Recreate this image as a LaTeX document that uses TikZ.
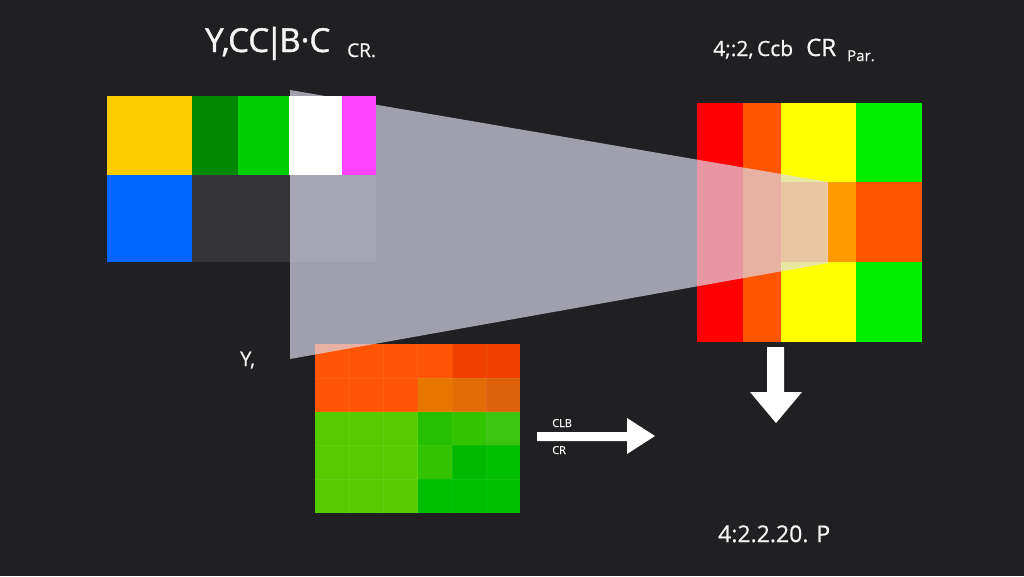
\documentclass[tikz,border=0pt]{standalone}
\usepackage{fontspec}
\setmainfont{Open Sans}
\newfontfamily\medf[FakeBold=1.2]{Open Sans}
\newfontfamily\medg[FakeBold=0.7]{Open Sans}
\definecolor{bg}{RGB}{32,32,34}
\definecolor{txt}{RGB}{245,245,245}
\definecolor{yelA}{RGB}{255,204,0}
\definecolor{grnD}{RGB}{0,136,0}
\definecolor{grnA}{RGB}{0,206,0}
\definecolor{bluA}{RGB}{0,102,255}
\definecolor{drk}{RGB}{52,52,54}
\definecolor{magA}{RGB}{255,68,255}
\definecolor{redA}{RGB}{255,0,0}
\definecolor{orR}{RGB}{255,85,0}
\definecolor{yelB}{RGB}{255,255,0}
\definecolor{grnB}{RGB}{0,238,0}
\definecolor{orB}{RGB}{255,153,0}
\definecolor{wedgec}{RGB}{222,222,240}
\definecolor{bO}{RGB}{255,85,5}
\definecolor{bR}{RGB}{240,64,0}
\definecolor{bM}{RGB}{230,118,0}
\definecolor{bN}{RGB}{225,108,5}
\definecolor{bP}{RGB}{222,98,12}
\definecolor{bG}{RGB}{85,204,0}
\definecolor{bH}{RGB}{36,192,0}
\definecolor{bI}{RGB}{50,196,0}
\definecolor{bJ}{RGB}{60,196,16}
\definecolor{bK}{RGB}{0,184,0}
\definecolor{bL}{RGB}{0,190,0}
\begin{document}
\begin{tikzpicture}[x=1pt,y=-1pt,
  lbl/.style={text=txt, inner sep=0pt, anchor=base west},
  shapefill/.style={fill=white, draw=none}]
\fill[bg] (0,0) rectangle (1024,576);
\useasboundingbox (0,0) rectangle (1024,576);

% left grid
\fill[yelA] (107,96) rectangle (192,175);
\fill[grnD] (192,96) rectangle (238,175);
\fill[grnA] (238,96) rectangle (289,175);
\fill[bluA] (107,175) rectangle (192,262);
\fill[drk] (192,175) rectangle (376,262);

% right grid
\fill[redA] (697,103) rectangle (743,342);
\fill[orR] (743,103) rectangle (781,342);
\fill[yelB] (781,103) rectangle (856,182);
\fill[grnB] (856,103) rectangle (922,182);
\fill[orB] (781,182) rectangle (856,262);
\fill[orR] (856,182) rectangle (922,262);
\fill[yelB] (781,262) rectangle (856,342);
\fill[grnB] (856,262) rectangle (922,342);

% bottom grid (6 x 5)
\foreach \r/\cols in {0/{bO,bO,bO,bO,bR,bR},1/{bO,bO,bO,bM,bN,bP},2/{bG,bG,bG,bH,bI,bJ},3/{bG,bG,bG,bI,bK,bL},4/{bG,bG,bG,bL,bL,bL}}{
  \foreach \c [count=\i from 0] in \cols {
    \fill[\c] ({315+34.2*\i},{344+33.8*\r}) rectangle ({315+34.2*(\i+1)},{344+33.8*(\r+1)});
  }
}
\foreach \i in {1,...,5} \draw[white, opacity=.06, line width=.6pt] ({315+34.2*\i},344) -- ({315+34.2*\i},513);
\foreach \r in {1,...,4} \draw[white, opacity=.06, line width=.6pt] (315,{344+33.8*\r}) -- (520,{344+33.8*\r});

% projection wedge
\fill[wedgec, opacity=.68] (290,90) -- (828,182) -- (828,263) -- (290,359) -- cycle;

% top row blocks over the wedge
\fill[white] (289,96) rectangle (342,175);
\fill[magA] (342,96) rectangle (376,175);

% arrows
\fill[shapefill] (537,432) -- (627,432) -- (627,418) -- (655,436) -- (627,454) -- (627,441) -- (537,441) -- cycle;
\fill[shapefill] (767,347) -- (784,347) -- (784,392) -- (802,392) -- (776,423) -- (750,392) -- (767,392) -- cycle;

% labels
\node[lbl] (t1) at (205,52) {\medf\fontsize{33}{36}\selectfont Y,CC\kern-4pt|\kern-4pt B·C};
\node[lbl] (t1s) at (347,57) {\medg\fontsize{19}{22}\selectfont CR.};
\node[lbl] (t2) at (713,56) {\medg\fontsize{21}{24}\selectfont 4;:2,\,Ccb};
\node[lbl] (t2a) at (806,56) {\medg\fontsize{24}{28}\selectfont CR};
\node[lbl] (t2b) at (847,61) {\medg\fontsize{15}{18}\selectfont Par.};
\node[lbl] (y1) at (240,366) {\medg\fontsize{20}{24}\selectfont Y,};
\node[lbl] (clb) at (552,427) {\medg\fontsize{11}{13}\selectfont CLB};
\node[lbl] (cr) at (552,454) {\medg\fontsize{11}{13}\selectfont CR};
\node[lbl] (bot) at (718,542) {\medg\fontsize{23}{27}\selectfont 4:2.2.20. P};
\end{tikzpicture}
\end{document}
